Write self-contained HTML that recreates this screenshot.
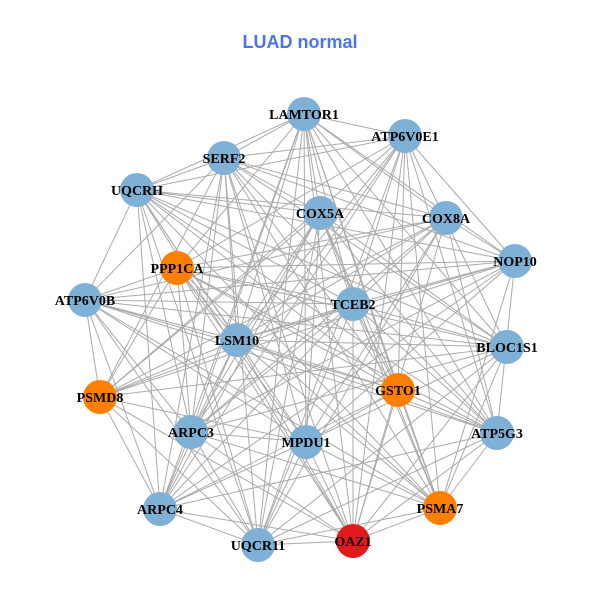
<!DOCTYPE html>
<html><head><meta charset="utf-8"><style>
html,body{margin:0;padding:0;background:#fff;}
svg{display:block}
</style></head><body>
<svg id="s" width="600" height="600" xmlns="http://www.w3.org/2000/svg">
<text x="300" y="48" text-anchor="middle" font-family="Liberation Sans, sans-serif" font-weight="bold" font-size="18" fill="#4a76e8">LUAD normal</text>
<g id="e" stroke="#aaaaaa" stroke-width="1"></g>
<g id="n"></g>
</svg>
<script>
var N=[["LAMTOR1",304,114,"b"],["ATP6V0E1",405,136,"b"],["SERF2",224,158,"b"],["UQCRH",137,190,"b"],["COX5A",320,213,"b"],["COX8A",446,218,"b"],["NOP10",515,261,"b"],["PPP1CA",177,268,"o"],["ATP6V0B",85,300,"b"],["TCEB2",353,304,"b"],["LSM10",237,340,"b"],["BLOC1S1",507,347,"b"],["PSMD8",100,397,"o"],["GSTO1",398,390,"o"],["ARPC3",191,432,"b"],["MPDU1",306,442,"b"],["ATP5G3",497,433,"b"],["ARPC4",160,509,"b"],["PSMA7",440,508,"o"],["UQCR11",258,545,"b"],["OAZ1",353,541,"r"]];
var C={b:"#7fb0d5",o:"#ff7f00",r:"#e31a1c"};
var ns="http://www.w3.org/2000/svg",e=document.getElementById("e"),g=document.getElementById("n");
var seed=7;function rnd(){seed=(seed*9301+49297)%233280;return seed/233280;}
for(var i=0;i<N.length;i++)for(var j=i+1;j<N.length;j++){if(rnd()<0.78){var l=document.createElementNS(ns,"line");l.setAttribute("x1",N[i][1]);l.setAttribute("y1",N[i][2]);l.setAttribute("x2",N[j][1]);l.setAttribute("y2",N[j][2]);e.appendChild(l);}}
N.forEach(function(d){var c=document.createElementNS(ns,"circle");c.setAttribute("cx",d[1]);c.setAttribute("cy",d[2]);c.setAttribute("r",17);c.setAttribute("fill",C[d[3]]);g.appendChild(c);});
N.forEach(function(d){var t=document.createElementNS(ns,"text");t.setAttribute("x",d[1]);t.setAttribute("y",d[2]+5);t.setAttribute("text-anchor","middle");t.setAttribute("font-family","Liberation Serif, serif");t.setAttribute("font-weight","bold");t.setAttribute("font-size","14");t.textContent=d[0];g.appendChild(t);});
</script>
</body></html>
